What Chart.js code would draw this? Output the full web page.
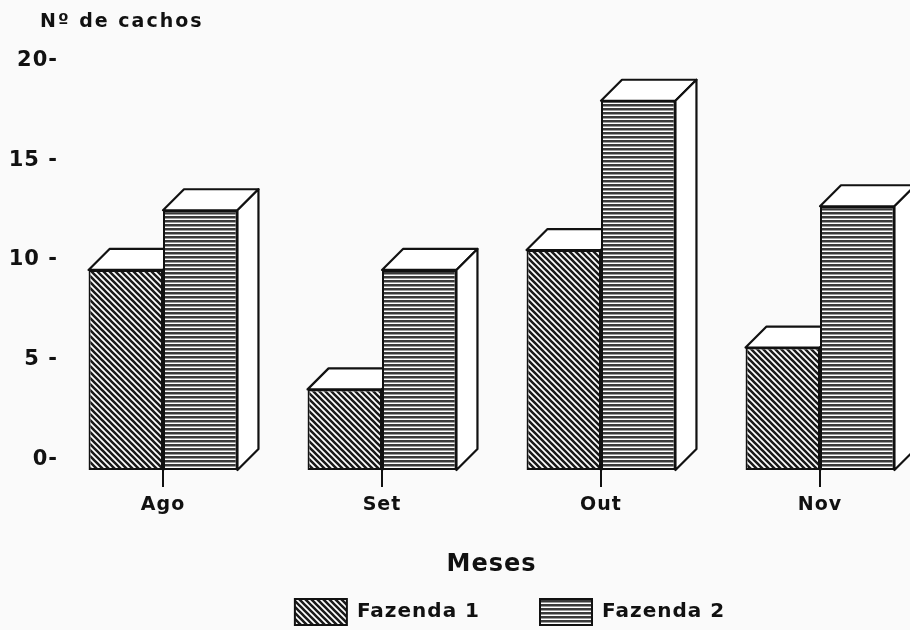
<!DOCTYPE html>
<html>
<head>
<meta charset="utf-8">
<script src="https://cdn.jsdelivr.net/npm/chart.js@4/dist/chart.umd.min.js"></script>
<style>
  html, body { margin: 0; padding: 0; background: #fafafa; overflow: hidden; }
  canvas { display: block; }
</style>
</head>
<body>
<canvas id="chart" width="910" height="630"></canvas>
<script>
// Data
const months = ['Ago', 'Set', 'Out', 'Nov'];
const fazenda1 = [9.5, 3.5, 10.5, 5.6];
const fazenda2 = [12.5, 9.5, 18, 12.7];
const yTicks = { 0: '0-', 5: '5 -', 10: '10 -', 15: '15 -', 20: '20-' };

const FONT = "'DejaVu Sans', sans-serif";
const DEPTH = 21;

// hatch patterns
function makePattern(kind) {
    const c = document.createElement('canvas');
    const p = c.getContext('2d');
    if (kind === 'diag') {
        c.width = 6; c.height = 6;
        p.fillStyle = '#fff';
        p.fillRect(0, 0, 6, 6);
        p.strokeStyle = '#1a1a1a';
        p.lineWidth = 2.6;
        p.beginPath();
        p.moveTo(-3, -3); p.lineTo(9, 9);
        p.moveTo(-9, -3); p.lineTo(3, 9);
        p.moveTo(3, -3); p.lineTo(15, 9);
        p.stroke();
    } else {
        c.width = 4; c.height = 4;
        p.fillStyle = '#fff';
        p.fillRect(0, 0, 4, 4);
        p.fillStyle = '#3a3a3a';
        p.fillRect(0, 0, 4, 2.5);
    }
    return p.createPattern(c, 'repeat');
}

// top + side faces of each bar, drawn behind the front faces
const depthFaces = {
    id: 'depthFaces',
    beforeDraw(chart) {
        chart.ctx.letterSpacing = '1px';
    },
    beforeDatasetsDraw(chart) {
        const ctx = chart.ctx;
        ctx.save();
        ctx.strokeStyle = '#111';
        ctx.lineWidth = 2.2;
        ctx.lineJoin = 'round';
        ctx.fillStyle = '#fff';
        chart.data.datasets.forEach((ds, i) => {
            chart.getDatasetMeta(i).data.forEach(bar => {
                const { x, y, base, width } = bar.getProps(['x', 'y', 'base', 'width'], true);
                const x0 = x - width / 2, x1 = x + width / 2;
                // top
                ctx.beginPath();
                ctx.moveTo(x0, y);
                ctx.lineTo(x0 + DEPTH, y - DEPTH);
                ctx.lineTo(x1 + DEPTH, y - DEPTH);
                ctx.lineTo(x1, y);
                ctx.closePath();
                ctx.fill(); ctx.stroke();
                // side
                ctx.beginPath();
                ctx.moveTo(x1, y);
                ctx.lineTo(x1 + DEPTH, y - DEPTH);
                ctx.lineTo(x1 + DEPTH, base - DEPTH);
                ctx.lineTo(x1, base);
                ctx.closePath();
                ctx.fill(); ctx.stroke();
            });
        });
        ctx.restore();
    },
    afterDraw(chart) {
        const ctx = chart.ctx;
        ctx.save();
        ctx.fillStyle = '#111';
        ctx.letterSpacing = '2px';
        ctx.font = 'bold 19px ' + FONT;
        ctx.textBaseline = 'middle';
        ctx.textAlign = 'left';
        ctx.fillText('Nº de cachos', 40, 22);
        ctx.restore();
    }
};

// invisible axis used only to reserve room
const spacer = (pos, w, weight) => ({
    position: pos,
    weight: weight,
    border: { display: false },
    grid: { display: false, drawTicks: false },
    ticks: { display: false },
    afterFit: s => { s.width = w; }
});

new Chart(document.getElementById('chart'), {
    type: 'bar',
    data: {
        labels: months,
        datasets: [
            {
                label: 'Fazenda 1',
                data: fazenda1,
                backgroundColor: makePattern('diag'),
                borderColor: '#111',
                borderWidth: 2,
                borderSkipped: false,
                base: -0.55,
                clip: false
            },
            {
                label: 'Fazenda 2',
                data: fazenda2,
                backgroundColor: makePattern('horiz'),
                borderColor: '#111',
                borderWidth: 2,
                borderSkipped: false,
                base: -0.55,
                clip: false
            }
        ]
    },
    options: {
        responsive: false,
        devicePixelRatio: 1,
        animation: false,
        categoryPercentage: 0.68,
        barPercentage: 1.0,
        layout: { padding: { left: 0, right: -92, top: 51, bottom: -5 } },
        plugins: {
            title: { display: false },
            tooltip: { enabled: false },
            legend: {
                position: 'bottom',
                labels: {
                    boxWidth: 52,
                    boxHeight: 26,
                    padding: 60,
                    color: '#111',
                    font: { family: FONT, size: 20, weight: 'bold' }
                }
            }
        },
        scales: {
            x: {
                offset: false,
                border: { display: false },
                grid: {
                    display: true,
                    offset: false,
                    drawOnChartArea: false,
                    drawTicks: true,
                    tickLength: 17,
                    color: '#111',
                    lineWidth: 2
                },
                ticks: {
                    color: '#111',
                    padding: 7,
                    font: { family: FONT, size: 19, weight: 'bold' }
                },
                title: {
                    display: true,
                    text: 'Meses',
                    color: '#111',
                    padding: { top: 0, bottom: -40 },
                    font: { family: FONT, size: 24, weight: 'bold' }
                },
                afterFit: s => { s.height = 69; }
            },
            y: {
                min: -0.55,
                max: 20.5,
                weight: 2,
                border: { display: false },
                grid: { display: false, drawTicks: false },
                ticks: {
                    stepSize: 5,
                    includeBounds: false,
                    padding: 4,
                    color: '#111',
                    font: { family: FONT, size: 21, weight: 'bold' },
                    callback: v => yTicks[v] !== undefined ? yTicks[v] : ''
                },
                afterFit: s => { s.width = 62; }
            },
            yGap: spacer('left', 101, 1),
            yRight: spacer('right', 182, 1)
        }
    },
    plugins: [depthFaces]
});
</script>
</body>
</html>
